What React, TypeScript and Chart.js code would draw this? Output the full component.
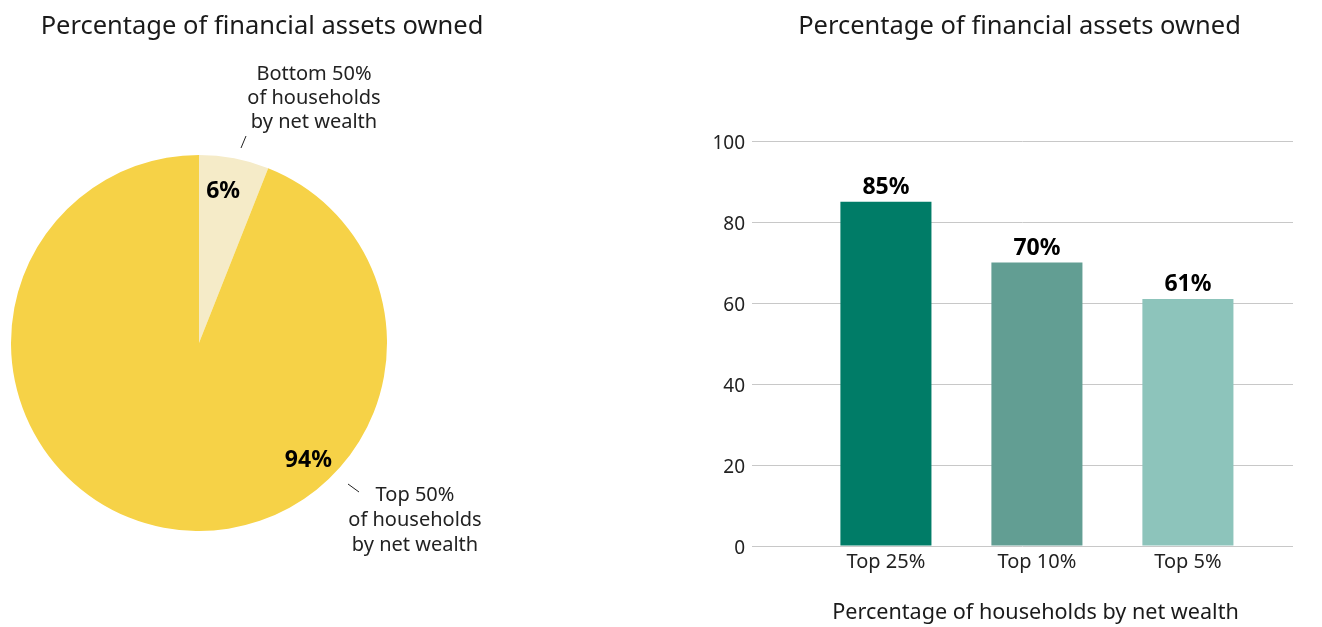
import React, { useEffect, useRef } from "react";
import { Chart, registerables } from "chart.js";

Chart.register(...registerables);

const FONT = "'Noto Sans', sans-serif";

const pieTitle = "Percentage of financial assets owned";
const pieLabels = ["Bottom 50% of households by net wealth", "Top 50% of households by net wealth"];
const pieValues = [6, 94];
const pieColors = ["#f5ebc8", "#f6d247"];

const barTitle = "Percentage of financial assets owned";
const barCategories = ["Top 25%", "Top 10%", "Top 5%"];
const barValues = [85, 70, 61];
const barColors = ["#007c67", "#629e93", "#8dc4bb"];
const yTicks = [0, 20, 40, 60, 80, 100];
const xAxisTitle = "Percentage of households by net wealth";

const pieTextPlugin = {
  id: "pieText",
  afterDraw(chart: any) {
    const ctx = chart.ctx;
    const meta = chart.getDatasetMeta(0);
    const a0 = meta.data[0];
    const cx = a0.x;
    const cy = a0.y;
    const r = a0.outerRadius;
    ctx.save();
    ctx.fillStyle = "#1a1a1a";
    ctx.textAlign = "center";
    ctx.textBaseline = "middle";
    ctx.font = `400 25.5px ${FONT}`;
    ctx.fillText(pieTitle, cx + 63, 27);

    // value labels
    ctx.font = `700 23px ${FONT}`;
    ctx.fillStyle = "#000";
    const pos = (deg: number, f: number) => [cx + Math.cos((deg * Math.PI) / 180) * r * f, cy + Math.sin((deg * Math.PI) / 180) * r * f];
    const [x1, y1] = pos(-81, 0.82);
    ctx.fillText(pieValues[0] + "%", x1, y1 + 1);
    const [x2, y2] = pos(46.8, 0.85);
    ctx.fillText(pieValues[1] + "%", x2, y2 + 1);

    // outside labels
    ctx.font = `400 20px ${FONT}`;
    ctx.fillStyle = "#222";
    const bottomLines = ["Bottom 50%", "of households", "by net wealth"];
    bottomLines.forEach((t, i) => ctx.fillText(t, cx + 115, cy - 269 + i * 24));
    const topLines = ["Top 50%", "of households", "by net wealth"];
    topLines.forEach((t, i) => ctx.fillText(t, cx + 216, cy + 152 + i * 25));

    ctx.strokeStyle = "#222";
    ctx.lineWidth = 1;
    ctx.beginPath();
    ctx.moveTo(cx + 42, cy - 195);
    ctx.lineTo(cx + 47, cy - 207);
    ctx.moveTo(cx + 149, cy + 141);
    ctx.lineTo(cx + 160, cy + 149);
    ctx.stroke();
    ctx.restore();
  },
};

const barTextPlugin = {
  id: "barText",
  afterDraw(chart: any) {
    const ctx = chart.ctx;
    const area = chart.chartArea;
    const meta = chart.getDatasetMeta(0);
    ctx.save();
    ctx.textAlign = "center";
    ctx.textBaseline = "alphabetic";
    ctx.font = `700 23px ${FONT}`;
    ctx.fillStyle = "#000";
    meta.data.forEach((bar: any, i: number) => {
      ctx.fillText(barValues[i] + "%", bar.x, bar.y - 8);
    });
    ctx.fillStyle = "#1a1a1a";
    ctx.textBaseline = "middle";
    const mid = (area.left + area.right) / 2;
    ctx.font = `400 21.6px ${FONT}`;
    ctx.fillText(xAxisTitle, mid + 13, 613);
    ctx.font = `400 25.5px ${FONT}`;
    ctx.fillText(barTitle, mid - 3, 27);
    ctx.restore();
  },
};

export default function App() {
  const pieRef = useRef<HTMLCanvasElement>(null);
  const barRef = useRef<HTMLCanvasElement>(null);

  useEffect(() => {
    const pie = new Chart(pieRef.current!, {
      type: "pie",
      data: {
        labels: pieLabels,
        datasets: [{ data: pieValues, backgroundColor: pieColors, borderWidth: 0 }],
      },
      options: {
        animation: false,
        responsive: false,
        layout: { padding: { left: 11, right: 273, top: 155, bottom: 96 } },
        plugins: { legend: { display: false }, tooltip: { enabled: false } },
      },
      plugins: [pieTextPlugin],
    });

    const bar = new Chart(barRef.current!, {
      type: "bar",
      data: {
        labels: barCategories,
        datasets: [
          {
            data: barValues.map((v, i) => ({ x: i, y: v })),
            backgroundColor: barColors,
            borderWidth: 0,
            barPercentage: 0.603,
            categoryPercentage: 1,
          },
        ],
      },
      options: {
        animation: false,
        responsive: false,
        layout: { padding: { left: 0, right: 29, top: 141, bottom: 0 } },
        plugins: { legend: { display: false }, tooltip: { enabled: false } },
        scales: {
          x: {
            type: "linear",
            offset: false,
            min: -0.887,
            max: 2.696,
            afterBuildTicks(scale: any) {
              scale.ticks = barCategories.map((_, i) => ({ value: i }));
            },
            afterFit(scale: any) {
              scale.height = 81;
            },
            grid: { display: false, drawTicks: false },
            border: { display: false },
            ticks: {
              autoSkip: false,
              maxRotation: 0,
              padding: 4,
              font: { family: FONT, size: 20 },
              color: "#222",
              callback: (v: any) => barCategories[v] ?? "",
            },
          },
          y: {
            min: 0,
            max: 100,
            afterBuildTicks(scale: any) {
              scale.ticks = yTicks.map((v) => ({ value: v }));
            },
            afterFit(scale: any) {
              scale.width = 92;
            },
            grid: { color: "#c8c8c8", drawTicks: false, lineWidth: 1 },
            border: { display: false },
            ticks: {
              padding: 7,
              labelOffset: 3,
              font: { family: FONT, size: 19 },
              color: "#222",
            },
          },
        },
      },
      plugins: [barTextPlugin],
    } as any);

    return () => {
      pie.destroy();
      bar.destroy();
    };
  }, []);

  return (
    <div style={{ position: "fixed", left: 0, top: 0, width: 1322, height: 627, background: "#fff" }}>
      <canvas ref={pieRef} width={660} height={627} style={{ position: "absolute", left: 0, top: 0, width: 660, height: 627 }} />
      <canvas ref={barRef} width={662} height={627} style={{ position: "absolute", left: 660, top: 0, width: 662, height: 627 }} />
    </div>
  );
}
